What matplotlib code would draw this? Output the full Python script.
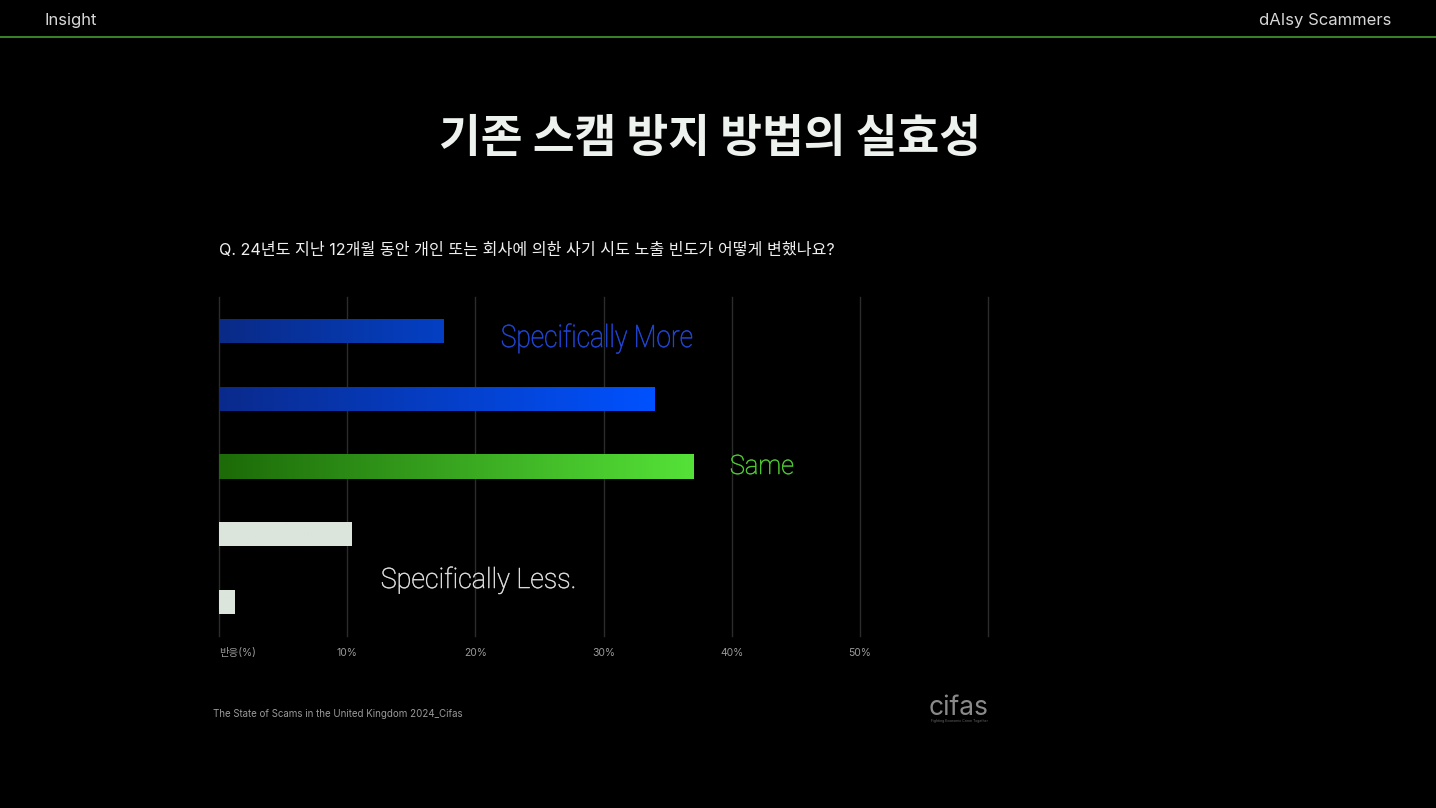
import numpy as np
import matplotlib.pyplot as plt
from matplotlib.colors import LinearSegmentedColormap
from matplotlib.font_manager import FontProperties
from matplotlib.textpath import TextPath
from matplotlib.patches import PathPatch
from matplotlib.transforms import Affine2D

plt.rcParams['font.family'] = ['Inter', 'Noto Sans CJK KR', 'DejaVu Sans']

# data
categories = ["Significantly More", "Somewhat More", "Same", "Somewhat Less", "Significantly Less"]
values = [17.5, 34.0, 37.0, 10.3, 1.2]
bar_left = ["#0a2a86", "#0a2a8c", "#1c6a08", "#dce5dc", "#dce5dc"]
bar_right = ["#0440c4", "#0052ff", "#55e238", "#dce5dc", "#dce5dc"]
ticks = [10, 20, 30, 40, 50]
tick_labels = ["10%", "20%", "30%", "40%", "50%"]

fig = plt.figure(figsize=(14.36, 8.08), dpi=100, facecolor="black")
W, H = 1436, 808


def squeezed(s, x0, x1, base, cap, color):
    # thin condensed label, fitted to a pixel box
    fp = FontProperties(family="Roboto", weight="light")
    tp = TextPath((0, 0), s, size=100, prop=fp)
    ext = tp.get_extents()
    cap_h = TextPath((0, 0), "H", size=100, prop=fp).get_extents().y1
    tr = Affine2D().translate(-ext.x0, 0).scale((x1 - x0) / ext.width, cap / cap_h).translate(x0, H - base)
    fig.add_artist(PathPatch(tp, transform=tr, facecolor=color, edgecolor=color, lw=0.4))


# header
fig.text(45 / W, 1 - 21 / H, "Insight", color="#d8d8d8", fontsize=12, va="center", ha="left")
fig.text(1391 / W, 1 - 21 / H, "dAIsy Scammers", color="#d8d8d8", fontsize=12, va="center", ha="right")
fig.add_artist(plt.Line2D([0, 1], [1 - 37 / H, 1 - 37 / H], color="#3f8f2c", lw=1.3))

fig.text(710 / W, 1 - 139 / H, "기존 스캠 방지 방법의 실효성", color="#eef2ee", fontsize=32.7,
         fontweight="bold", ha="center", va="center", family=["Noto Sans CJK KR", "DejaVu Sans"])
fig.text(219 / W, 1 - 251 / H, "Q. 24년도 지난 12개월 동안 개인 또는 회사에 의한 사기 시도 노출 빈도가 어떻게 변했나요?",
         color="#f0f0f0", fontsize=11.6, ha="left", va="center")

ax = fig.add_axes([219 / W, 1 - 636 / H, (988 - 219) / W, (636 - 297) / H])
ax.set_facecolor("black")

for x in range(0, 70, 10):
    ax.axvline(x, color="#2c2c2c", lw=1, zorder=0, clip_on=False)

y = np.arange(len(categories))
bars = ax.barh(y, values, height=0.355, color="none", zorder=2)
for b, c1, c2 in zip(bars, bar_left, bar_right):
    x0, y0 = b.get_x(), b.get_y()
    w, h = b.get_width(), b.get_height()
    cmap = LinearSegmentedColormap.from_list("g", [c1, c2])
    im = ax.imshow(np.linspace(0, 1, 256).reshape(1, -1), cmap=cmap, aspect="auto",
                   extent=[x0, x0 + w, y0 + h, y0], zorder=2)
    im.set_clip_path(b)
ax.set_xlim(0, 60)
ax.set_ylim(4.5, -0.5)

ax.set_yticks([])
ax.set_xticks(ticks)
ax.set_xticklabels(tick_labels, color="#9a9a9a", fontsize=7.5)
ax.tick_params(axis="x", length=0, pad=9)
ax.text(0, 1 - (653 - 297) / (636 - 297), "반응(%)", transform=ax.transAxes, color="#9a9a9a",
        fontsize=7.5, ha="left", va="center")
for s in ax.spines.values():
    s.set_visible(False)

squeezed("Specifically More", 502, 692, 347, 22, "#2148dc")
squeezed("Same", 731, 793, 474, 19, "#4fd232")
squeezed("Specifically Less.", 382, 574, 588, 20, "#e6e6e6")

fig.text(213 / W, 1 - 714 / H, "The State of Scams in the United Kingdom 2024_Cifas", color="#9a9a9a",
         fontsize=7.0, ha="left", va="center")
fig.text(959 / W, 1 - 708 / H, "cifas", color="#8a8a8a", fontsize=19, ha="center", va="center")
fig.text(959 / W, 1 - 721 / H, "Fighting Economic Crime Together", color="#6a6a6a", fontsize=2.5,
         ha="center", va="center")

fig.savefig("out.png", dpi=100, facecolor="black")
